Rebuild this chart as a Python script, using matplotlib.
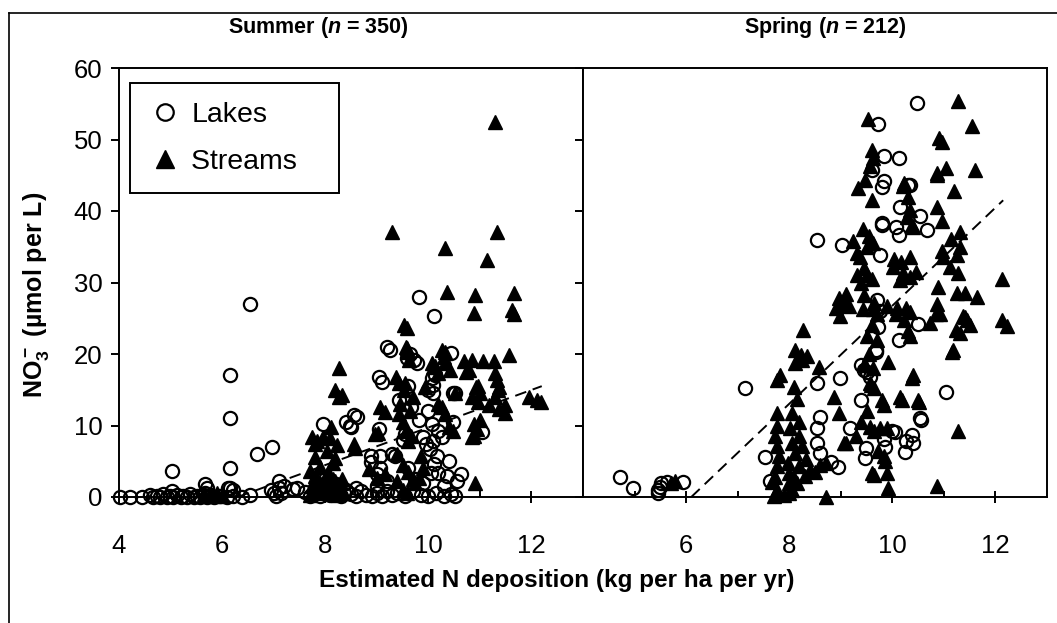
import numpy as np
import matplotlib
matplotlib.use("Agg")
import matplotlib.pyplot as plt
from matplotlib import font_manager
from matplotlib.lines import Line2D

# --- data: (deposition, NO3-) pairs ---
summer_lakes = [
    (4.02, 0), (4.21, 0), (4.44, 0), (4.6, 0.3), (4.65, 0), (4.73, 0.2), (4.8, 0),
    (4.86, 0.4), (4.93, 0), (4.99, 0.2), (5.05, 0), (5.12, 0.3), (5.2, 0), (5.25, 0.2),
    (5.32, 0), (5.38, 0.4), (5.45, 0), (5.51, 0.2), (5.58, 0), (5.64, 0.3), (5.7, 0),
    (5.77, 0.3), (5.85, 0), (5.96, 0.1), (6.09, 0), (6.22, 0.2), (6.38, 0),
    (5.02, 3.6), (5.02, 0.9), (5.7, 1.3), (5.67, 0.6), (6.15, 1.2), (6.22, 1.0),
    (6.54, 0.3), (6.15, 17), (6.15, 11), (6.15, 4), (6.54, 27), (6.67, 6), (6.96, 7),
    (5.67, 1.8), (6.11, 1.3),
    (6.95, 1.0), (7.0, 0.5), (7.05, 0.2), (7.1, 1.2), (7.15, 0.5), (7.2, 1.5),
    (7.11, 2.3), (7.37, 1.1), (7.45, 1.2), (7.61, 0.7), (7.7, 0.2), (7.8, 0.5),
    (7.9, 0.1), (8.0, 0.8), (8.1, 0.3), (8.2, 0.6), (8.3, 0.2), (8.4, 1.0), (8.5, 0.4),
    (8.6, 0.2), (8.7, 0.8), (8.8, 0.3), (8.9, 0.1), (9.0, 0.6), (9.1, 0.2), (9.2, 0.9),
    (9.3, 0.3), (9.4, 0.5), (9.55, 0.2), (9.7, 0.8), (9.85, 0.3), (10.0, 0.1),
    (10.15, 0.6), (10.3, 0.2), (10.44, 0.4), (10.52, 0.1),
    (9.81, 28), (10.11, 25.3), (9.19, 21), (9.04, 16.8), (9.59, 19.5), (9.65, 20),
    (9.72, 19.2), (9.78, 18.8), (10.44, 20.1), (10.07, 16.6), (10.1, 15.6), (10.1, 14.5),
    (10.48, 14.5), (7.96, 10.2), (8.41, 10.5), (8.48, 10), (8.56, 11.4), (8.89, 5.8),
    (9.04, 9.5), (9.07, 4.1), (9.0, 3.2), (9.3, 6), (9.44, 13.5), (9.52, 12.1),
    (9.67, 12.6), (9.81, 10.7), (9.89, 8.4), (9.96, 7.4), (10.04, 6.7), (10.07, 10.2),
    (10.19, 9.3), (10.26, 8.4), (10.48, 10.5), (11.04, 9.1), (10.11, 4.6), (10.19, 3.4),
    (10.37, 3), (10.63, 3.2), (10.56, 2.3), (9.26, 20.5), (9.1, 16.1), (8.61, 11.2),
    (8.5, 9.8), (8.88, 4.9), (9.06, 5.8), (9.36, 5.7), (10.09, 7.9), (10.16, 5.7),
    (10.06, 3.4), (10.52, 14.5), (10.13, 17), (10.0, 12), (9.9, 2), (10.3, 1.5),
    (9.6, 4), (9.75, 2.5), (9.5, 8), (8.0, 2.5), (7.9, 1.5), (8.2, 1.8), (8.6, 1.2),
    (9.0, 1.5), (9.2, 2.2), (10.4, 5), (10.0, 15), (9.6, 15.5), (9.55, 8.8),
]

summer_streams = [
    (5.65, 0.4), (5.75, 0.2), (5.8, 0.3), (5.9, 0.5), (6.0, 0.2),
    (7.7, 0.3), (7.75, 1.5), (7.8, 3), (7.85, 0.8), (7.9, 2), (7.95, 0.5), (8.0, 1.2),
    (8.05, 3.5), (8.1, 0.4), (8.15, 2.5), (8.2, 1), (8.25, 0.3), (8.3, 2), (8.35, 0.6),
    (8.26, 18), (8.19, 14.9), (8.26, 14), (8.32, 14.3), (7.74, 8.4), (7.81, 7.4),
    (7.96, 8.4), (8.11, 9.8), (8.04, 6.5), (8.19, 5.5), (8.56, 7.4), (7.7, 3.7),
    (7.81, 2.5), (8.04, 2.8), (8.19, 2.3), (8.33, 2.5), (7.84, 7.8), (8.1, 8.2),
    (8.22, 7.3), (7.81, 5.6), (7.9, 4.2), (8.16, 4.7), (8.58, 6.8),
    (9.07, 12.6), (8.96, 8.8), (8.85, 3.9), (9.0, 2.7), (9.15, 3.2), (9.16, 11.9),
    (9.03, 8.9),
    (9.3, 37), (9.52, 24.1), (9.56, 21), (9.59, 20.3), (9.58, 23.6), (9.58, 20.8),
    (9.62, 19.1), (9.37, 16.8), (9.44, 15.9), (9.52, 14.9), (9.44, 11.6), (9.5, 10.5),
    (9.56, 9.3), (9.67, 8.6), (9.6, 7.9), (9.4, 6), (9.5, 4.5), (9.6, 3.5), (9.7, 2.5),
    (9.74, 2), (9.45, 13), (9.55, 16), (9.5, 1), (9.58, 0.5), (9.65, 12), (9.7, 14),
    (9.4, 2.2), (9.89, 4.1), (9.81, 2.7), (9.85, 5.8),
    (10.07, 18.7), (10.26, 20.6), (10.33, 18.7), (9.93, 15.4), (10.19, 17.3),
    (10.26, 12.6), (10.33, 11.6), (10.19, 13), (10.48, 9.3), (10.1, 18.2), (10.3, 19.6),
    (10.13, 18.3), (10.42, 17.8), (10.52, 14.6), (10.4, 9.8), (10.33, 34.8),
    (10.36, 28.7), (10.33, 20.3),
    (10.7, 19), (10.85, 19.2), (11.07, 19), (11.27, 19), (10.74, 17.5), (10.78, 17.8),
    (10.93, 15.4), (11.0, 14.5), (10.85, 14), (10.97, 15.5), (11.33, 16.4), (11.36, 15),
    (10.89, 10.2), (10.85, 8.4), (11.01, 10.7), (10.94, 9.5), (10.88, 8.6), (11.3, 17.3),
    (11.37, 15.4), (11.3, 14), (11.48, 12.8), (11.37, 12.3), (10.97, 13.3), (11.17, 12.8),
    (11.49, 11.7), (11.56, 19.9), (11.63, 26.2), (10.88, 25.7), (10.91, 28.3),
    (11.66, 28.5), (11.14, 33.1), (11.33, 37.1), (11.3, 52.5), (11.66, 25.6),
    (11.96, 14), (12.11, 13.5), (12.18, 13.3), (10.91, 2),
]

spring_lakes = [
    (4.71, 2.8), (4.97, 1.2), (5.46, 0.5), (5.49, 1.4), (5.52, 1.9), (5.62, 2.1),
    (5.94, 2.1), (5.45, 1.0), (7.14, 15.2), (7.53, 5.6), (7.63, 2.3), (8.53, 15.9),
    (8.6, 11.2), (8.53, 9.6), (8.53, 7.5), (8.6, 6.1), (8.98, 16.6), (9.18, 9.6),
    (8.82, 4.9), (8.95, 4.2), (9.4, 18.4), (9.46, 17.7), (9.56, 16.8), (9.4, 13.5),
    (9.69, 20.5), (9.73, 23.8), (10.12, 21.9), (10.5, 24.2), (11.05, 14.7), (10.54, 11),
    (10.05, 9.1), (9.86, 7), (9.47, 5.4), (10.25, 6.3), (10.41, 7.5), (8.53, 36),
    (9.03, 35.3), (10.47, 55.1), (9.73, 52.1), (10.12, 47.4), (9.83, 47.7), (9.6, 45.8),
    (9.83, 44.2), (9.79, 43.3), (10.31, 43.7), (10.15, 40.5), (9.79, 38.1), (10.08, 37.7),
    (10.12, 36.7), (10.54, 39.3), (10.67, 37.4), (9.76, 33.8), (9.7, 27.6), (9.76, 26),
    (9.68, 20.3), (9.5, 17.5), (9.84, 8.1), (9.48, 6.9), (10.39, 8.7), (10.26, 7.8),
    (10.0, 9.2), (10.55, 10.8), (9.8, 38.3), (10.35, 43.6),
]

spring_streams = [
    (5.7, 2.0), (5.78, 2.3),
    (7.66, 2.1), (7.76, 1.0), (7.99, 1.9), (8.05, 1.0), (8.15, 1.9), (8.71, 0),
    (7.7, 0.2), (7.9, 0.3), (8.0, 0.5),
    (7.76, 11.8), (7.76, 10), (7.73, 8.5), (7.76, 7.1), (7.8, 5.7), (7.76, 4.3),
    (7.73, 2.8),
    (8.05, 11.8), (8.18, 10.5), (8.02, 9.6), (8.18, 8.5), (8.05, 7.6), (8.25, 7.1),
    (8.12, 6.2), (8.32, 5.3), (7.98, 4.8), (8.18, 4.3), (8.4, 3.8), (8.0, 3.3),
    (8.1, 2.6), (8.3, 3.0), (8.5, 3.5), (8.6, 4.5),
    (8.27, 23.3), (8.12, 20.6), (8.22, 19.9), (8.12, 18.7), (8.25, 19.2), (8.35, 19.7),
    (7.82, 17), (7.76, 16.3), (8.58, 18.2), (8.09, 15.4), (8.15, 13.7),
    (8.87, 14), (8.97, 11.8), (9.07, 7.6), (8.71, 4.7), (9.3, 8.6), (9.11, 7.5),
    (8.97, 27.9), (9.1, 26.8), (8.9, 26.5), (9.1, 28.4), (9.24, 35.8), (9.31, 34.1),
    (9.31, 31.1), (8.98, 27.2), (9.15, 26.7), (8.98, 25.3), (9.34, 43.2),
    (9.53, 52.8), (9.6, 48.6), (9.63, 47.4), (9.57, 46.3), (9.47, 44.4), (9.6, 41.6),
    (9.44, 37.5), (9.55, 36.5), (9.5, 35), (9.63, 35.5), (9.37, 33.5), (9.45, 32),
    (9.5, 31), (9.6, 30.5), (9.4, 30), (9.44, 26.3), (9.63, 26.3), (9.89, 26.7),
    (9.45, 28.3), (9.65, 27.2), (9.71, 25.6), (9.58, 15.6), (9.65, 15.3), (9.84, 12.8),
    (9.56, 9.8), (9.76, 9.6), (9.89, 9.6), (9.65, 9.2), (9.6, 3.3), (9.72, 6.5),
    (9.85, 5.1), (9.89, 3.3), (9.92, 1.2), (9.84, 5.8), (9.65, 3.1), (9.5, 22.5),
    (9.55, 20), (9.6, 24), (9.7, 22), (9.45, 18.5), (9.62, 18), (9.5, 12), (9.4, 10.5),
    (9.79, 13.5), (10.15, 14), (10.5, 13.5), (9.56, 15.9), (9.92, 18.9), (10.41, 17),
    (10.19, 13.6), (10.52, 13.3),
    (10.2, 43.5), (10.31, 41.9), (10.34, 40.2), (10.23, 43.9), (10.29, 39.2),
    (10.39, 38), (10.4, 37.7), (10.02, 32.2), (10.21, 31.3), (10.34, 30.8), (10.15, 30.3),
    (10.03, 33.3), (10.16, 32.8), (10.35, 33.6), (10.45, 31.4), (10.08, 25.6),
    (10.34, 25.9), (10.1, 26.4), (10.26, 26.4), (10.31, 23.2), (10.35, 22.5),
    (10.23, 24.7), (10.39, 16.7),
    (10.9, 50.2), (10.96, 49.7), (10.86, 45.3), (11.05, 46), (10.87, 45), (10.86, 40.5),
    (10.96, 38.6), (10.99, 33.6), (10.89, 29.4), (10.86, 27), (10.92, 25.6),
    (10.73, 24.4), (10.84, 25.6), (10.97, 34.4), (11.13, 36.1), (10.86, 1.6),
    (11.28, 55.4), (11.54, 51.9), (11.6, 45.8), (11.2, 42.8), (11.31, 35), (11.12, 32.2),
    (11.28, 31.3), (11.32, 37), (11.26, 33.9), (11.25, 28.5), (11.41, 28.5), (11.64, 28),
    (11.38, 25.3), (11.5, 24.1), (11.31, 22.9), (11.18, 20.5), (11.24, 23.3),
    (11.41, 25.2), (11.28, 9.3), (11.16, 20.3), (11.45, 24.7),
    (12.12, 30.5), (12.12, 24.8), (12.22, 23.9),
]

# dashed regression lines (end points)
summer_fit = [(6.3, 0.0), (12.2, 15.5)]
spring_fit = [(6.1, 0.0), (12.15, 41.5)]

titles = [r"Summer ($n$ = 350)", r"Spring ($n$ = 212)"]
xlabel = "Estimated N deposition (kg per ha per yr)"
ylabel = r"NO$_3^-$ (µmol per L)"
legend_labels = ["Lakes", "Streams   "]

# --- fonts ---
names = {f.name for f in font_manager.fontManager.ttflist}
narrow = "Liberation Sans Narrow" in names
cond = "Liberation Sans Narrow" if narrow else "Liberation Sans"
title_size = 18 if narrow else 15.5
xlab_size = 20 if narrow else 17.5
ylab_size = 20 if narrow else 18

plt.rcParams["font.family"] = ["Liberation Sans", "DejaVu Sans"]
plt.rcParams["mathtext.fontset"] = "custom"
plt.rcParams["mathtext.rm"] = cond + ":bold"
plt.rcParams["mathtext.it"] = cond + ":italic:bold"
plt.rcParams["mathtext.bf"] = cond + ":bold"

W, H = 1057, 623
fig = plt.figure(figsize=(W / 100, H / 100), dpi=100)
ax1 = fig.add_axes([119 / W, 1 - 497 / H, 464 / W, 429 / H])
ax2 = fig.add_axes([583 / W, 1 - 497 / H, 464 / W, 429 / H], sharey=ax1)

panels = [
    (ax1, summer_lakes, summer_streams, summer_fit),
    (ax2, spring_lakes, spring_streams, spring_fit),
]

handles = []
for ax, lakes, streams, fit in panels:
    lk = np.array(lakes)
    st = np.array(streams)
    ft = np.array(fit)
    h_st, = ax.plot(st[:, 0], st[:, 1], ls="none", marker="^", ms=10.5,
                    color="black", clip_on=False, zorder=3)
    h_lk, = ax.plot(lk[:, 0], lk[:, 1], ls="none", marker="o", ms=9.5,
                    mfc="none", mec="black", mew=1.6, clip_on=False, zorder=4)
    ax.plot(ft[:, 0], ft[:, 1], color="black", lw=1.4, dashes=(6, 3.5), zorder=5)
    handles = [h_lk, h_st]
    ax.set_xlim(4, 13)
    ax.set_ylim(0, 60)
    for s in ax.spines.values():
        s.set_linewidth(1.4)
    ax.set_xticks([5, 7, 9, 11], minor=True)
    ax.tick_params(axis="x", which="major", direction="inout", length=9, width=1.4,
                   pad=22, labelsize=18.5)
    ax.tick_params(axis="x", which="minor", direction="in", length=4.5, width=1.4)
    ax.tick_params(axis="y", direction="out", length=6, width=1.4, pad=6, labelsize=18.5)

ax1.set_xticks([4, 6, 8, 10, 12])
ax2.set_xticks([6, 8, 10, 12])
ax1.set_yticks(range(0, 61, 10))
ax2.tick_params(axis="y", labelleft=False)

leg = ax1.legend(handles, legend_labels, loc="upper left",
                 bbox_to_anchor=(11 / 464, 414 / 429), borderaxespad=0,
                 frameon=True, fancybox=False, edgecolor="black", framealpha=1,
                 fontsize=20.5, handlelength=1.15, handletextpad=0.35,
                 borderpad=0.65, labelspacing=0.75, markerscale=1.25)
leg.get_frame().set_linewidth(1.4)

fig.text(318 / W, 1 - 28 / H, titles[0], ha="center", va="center",
         fontweight="bold", family=cond, size=title_size)
fig.text(825 / W, 1 - 28 / H, titles[1], ha="center", va="center",
         fontweight="bold", family=cond, size=title_size)
fig.text(557 / W, 1 - 580 / H, xlabel, ha="center", va="center",
         fontweight="bold", family=cond, size=xlab_size)
fig.text(36 / W, 1 - 295 / H, ylabel, ha="center", va="center", rotation=90,
         fontweight="bold", family=cond, size=ylab_size)

# outer frame (top and left edges)
fig.add_artist(Line2D([9 / W, 1], [1 - 13 / H, 1 - 13 / H],
                      transform=fig.transFigure, color="black", lw=1.2))
fig.add_artist(Line2D([9 / W, 9 / W], [0, 1 - 13 / H],
                      transform=fig.transFigure, color="black", lw=1.2))

fig.savefig("out.png", dpi=100)
